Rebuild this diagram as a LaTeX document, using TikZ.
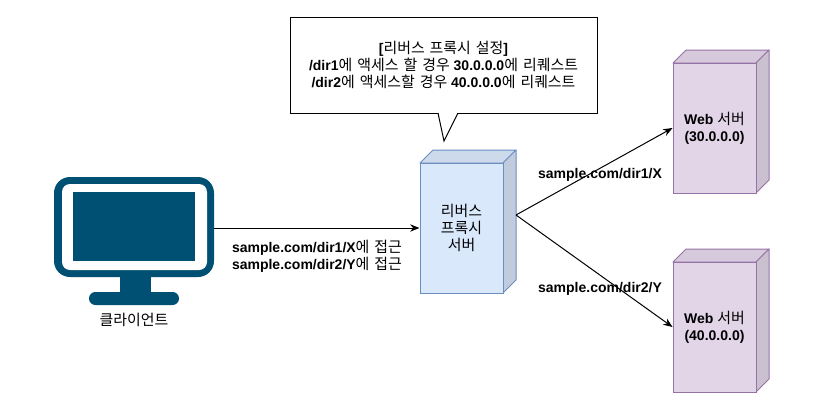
\documentclass[tikz,border=0pt]{standalone}
\usepackage{fontspec}
\setmainfont{Liberation Sans}[BoldFont={Liberation Sans Bold}]
\newfontfamily\krfont[WordSpace=1.5]{Noto Sans CJK KR}
\newcommand{\kr}[1]{{\krfont\mdseries\fontsize{11.2}{13}\selectfont #1}}
\usetikzlibrary{arrows.meta,calc}
\definecolor{monitorblue}{HTML}{005073}
\definecolor{bluefill}{HTML}{DAE8FC}
\definecolor{blueline}{HTML}{6C8EBF}
\definecolor{bluetop}{HTML}{CDDAEC}
\definecolor{blueside}{HTML}{C0CCDE}
\definecolor{purplefill}{HTML}{E1D5E7}
\definecolor{purpleline}{HTML}{9673A6}
\definecolor{purpletop}{HTML}{D5C9DB}
\definecolor{purpleside}{HTML}{CAC0D0}
\tikzset{
  lbl/.style={font=\fontsize{10.5}{12.6}\selectfont\bfseries, align=center, inner sep=0pt, text=black},
  front/.style={draw=#1, line width=0.75pt, minimum width=62.25pt, minimum height=97.5pt, inner sep=0pt, align=center,
     font=\fontsize{10.5}{13}\selectfont\bfseries},
  conn/.style={draw=black, line width=0.75pt, -{Stealth[length=7pt,width=5.5pt]}},
  face/.style={line width=0.75pt, line join=round},
}
\begin{document}
\begin{tikzpicture}[x=0.75pt,y=-0.75pt]
\useasboundingbox[fill=white] (0,0) rectangle (814,411);

% monitor
\fill[monitorblue,rounded corners=12pt] (54,177) rectangle (214,277);
\fill[white,rounded corners=6pt] (62,184) rectangle (207,270);
\fill[monitorblue] (73,192) rectangle (195,261);
\fill[monitorblue] (120,276) rectangle (151,293);
\fill[monitorblue,rounded corners=4.8pt] (89,292) rectangle (179,305);
\coordinate (monitor) at (214,228);
\node[lbl] (clientlabel) at (134,320) {\kr{클라이언트}};

% proxy cube
\filldraw[fill=bluetop,draw=blueline,face] (420,163) -- (433,150) -- (516,150) -- (503,163) -- cycle;
\filldraw[fill=blueside,draw=blueline,face] (503,163) -- (516,150) -- (516,280) -- (503,293) -- cycle;
\node[front=blueline,fill=bluefill] (proxy) at (461.5,228) {\kr{리버스}\\\kr{프록시}\\\kr{서버}};
\coordinate (proxyout) at (516,215);

% web 1
\filldraw[fill=purpletop,draw=purpleline,face] (673,63) -- (686,50) -- (769,50) -- (756,63) -- cycle;
\filldraw[fill=purpleside,draw=purpleline,face] (756,63) -- (769,50) -- (769,180) -- (756,193) -- cycle;
\node[front=purpleline,fill=purplefill] (webone) at (714.5,128) {Web \kr{서버}\\(30.0.0.0)};

% web 2
\filldraw[fill=purpletop,draw=purpleline,face] (673,262) -- (686,249) -- (769,249) -- (756,262) -- cycle;
\filldraw[fill=purpleside,draw=purpleline,face] (756,262) -- (769,249) -- (769,379) -- (756,392) -- cycle;
\node[front=purpleline,fill=purplefill] (webtwo) at (714.5,327) {Web \kr{서버}\\(40.0.0.0)};

% callout
\node[draw=black,fill=white,line width=0.75pt,minimum width=230.25pt,minimum height=72pt,inner sep=0pt,
      lbl] (callout) at (443.5,65)
  {[\kr{리버스 프록시 설정}]\\/dir1\kr{에 액세스 할 경우} 30.0.0.0\kr{에 리퀘스트}\\/dir2\kr{에 액세스할 경우} 40.0.0.0\kr{에 리퀘스트}};
\coordinate (tip) at (444,141);
\fill[white] (438,112) -- (tip) -- (458,112) -- cycle;
\draw[line width=0.75pt,line join=miter] (438,113) -- (tip) -- (458,113);

% connectors
\draw[conn] (monitor) -- (proxy.west |- monitor);
\draw[conn] (proxyout) -- (webone.west);
\draw[conn] (proxyout) -- (webtwo.west);

% labels
\node[lbl] (lblclient) at (317,256.5) {sample.com/dir1/X\kr{에 접근}\\sample.com/dir2/Y\kr{에 접근}};
\node[lbl] (lblone) at (600,175) {sample.com/dir1/X};
\node[lbl] (lbltwo) at (600,289) {sample.com/dir2/Y};
\end{tikzpicture}
\end{document}
